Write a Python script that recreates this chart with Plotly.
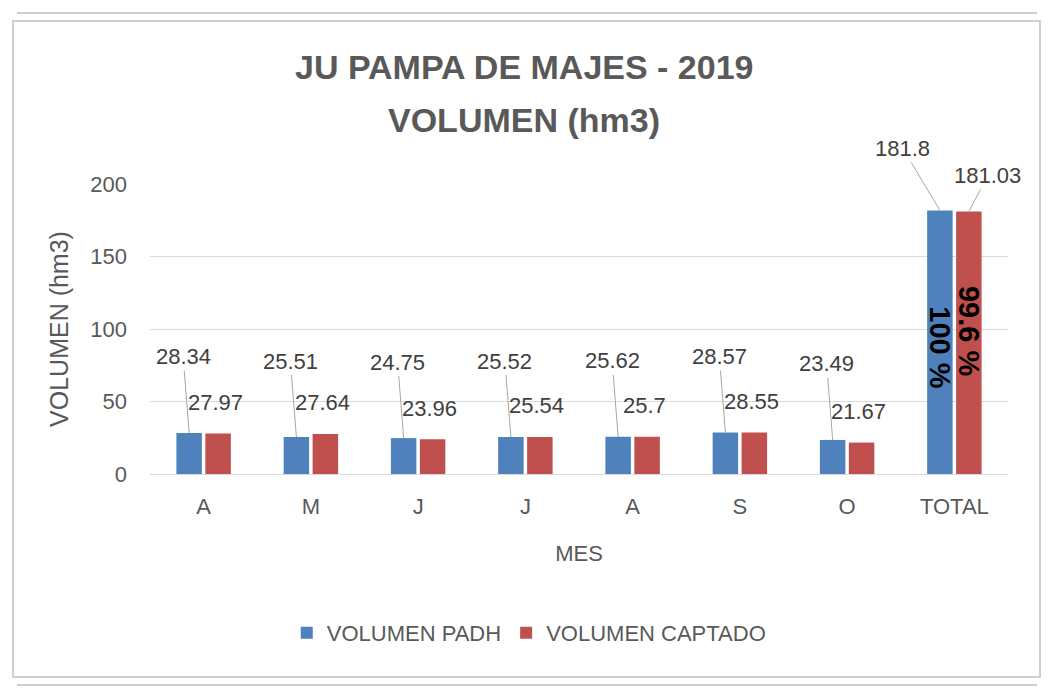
import plotly.graph_objects as go

# ---- data ----
months = ["A", "M", "J", "J", "A", "S", "O", "TOTAL"]
volumen_padh = [28.34, 25.51, 24.75, 25.52, 25.62, 28.57, 23.49, 181.8]
volumen_captado = [27.97, 27.64, 23.96, 25.54, 25.7, 28.55, 21.67, 181.03]
y_ticks = [0, 50, 100, 150, 200]

# ---- layout constants ----
W, H = 1048, 691
L, R, T, B = 150, 1008, 184, 474   # plot area in pixels
BLUE, RED = "#4f81bd", "#c0504d"
GRAY_TXT = "#595959"
GRID = "#d9d9d9"
FONT = "Liberation Sans, Arial, sans-serif"
BARGAP, GROUPGAP = 0.46, 0.12
OFF = (1 - BARGAP) / 4  # centre offset of each bar in a group


def px(x):
    return (x - L) / (R - L)


def py(y):
    return (B - y) / (B - T)


x_idx = list(range(len(months)))

fig = go.Figure()
fig.add_trace(go.Bar(x=x_idx, y=volumen_padh, name="VOLUMEN PADH",
                     marker=dict(color=BLUE, line=dict(width=0))))
fig.add_trace(go.Bar(x=x_idx, y=volumen_captado, name="VOLUMEN CAPTADO",
                     marker=dict(color=RED, line=dict(width=0))))

ann = []
n = len(months)
for i in range(n):
    vb, vr = volumen_padh[i], volumen_captado[i]
    last = i == n - 1
    # blue labels with leader line
    ann.append(dict(x=i - OFF, y=vb, xref="x", yref="y", text=f"{vb:g}",
                    showarrow=True, arrowhead=0, arrowwidth=1, arrowcolor="#a6a6a6",
                    ax=-37 if last else -6, ay=-62 if last else -76,
                    standoff=0, startstandoff=0,
                    font=dict(size=22, color="#404040", family=FONT)))
    # red labels
    if last:
        ann.append(dict(x=i + OFF, y=vr, xref="x", yref="y", text=f"{vr:g}",
                        showarrow=True, arrowhead=0, arrowwidth=1, arrowcolor="#a6a6a6",
                        ax=19, ay=-36, standoff=0, startstandoff=0,
                        font=dict(size=22, color="#404040", family=FONT)))
    else:
        ann.append(dict(x=i + OFF, y=vr, xref="x", yref="y", text=f"{vr:g}",
                        showarrow=False, yanchor="middle", yshift=31, xshift=-3,
                        font=dict(size=22, color="#404040", family=FONT)))

# percentage labels inside TOTAL bars
tb, tr = volumen_padh[-1], volumen_captado[-1]
pct_b = "100 %"
pct_r = f"{tr / tb * 100:.1f} %"
ann.append(dict(x=n - 1 - OFF, y=tb / 2, xref="x", yref="y", text=f"<b>{pct_b}</b>",
                textangle=90, showarrow=False, yshift=-5,
                font=dict(size=29, color="#000000", family=FONT)))
ann.append(dict(x=n - 1 + OFF, y=tr / 2, xref="x", yref="y", text=f"<b>{pct_r}</b>",
                textangle=90, showarrow=False, yshift=11,
                font=dict(size=29, color="#000000", family=FONT)))

# title (two lines)
ann.append(dict(x=px(524), y=py(67), xref="paper", yref="paper",
                text="<b>JU PAMPA DE MAJES - 2019</b>", showarrow=False,
                xanchor="center", yanchor="middle",
                font=dict(size=34, color=GRAY_TXT, family=FONT)))
ann.append(dict(x=px(524), y=py(120), xref="paper", yref="paper",
                text="<b>VOLUMEN (hm3)</b>", showarrow=False,
                xanchor="center", yanchor="middle",
                font=dict(size=34, color=GRAY_TXT, family=FONT)))

# chart frame (as in the source screenshot)
frame = "#d0d0d0"
shapes = [
    dict(type="rect", xref="paper", yref="paper", x0=px(13), x1=px(1040),
         y0=py(677), y1=py(21), line=dict(color=frame, width=2)),
    dict(type="line", xref="paper", yref="paper", x0=px(17), x1=px(1037),
         y0=py(13), y1=py(13), line=dict(color=frame, width=2)),
    dict(type="line", xref="paper", yref="paper", x0=px(17), x1=px(1037),
         y0=py(685), y1=py(685), line=dict(color=frame, width=2)),
]

fig.update_layout(
    width=W, height=H,
    margin=dict(l=L, r=W - R, t=T, b=H - B, autoexpand=False),
    paper_bgcolor="white", plot_bgcolor="white",
    barmode="group", bargap=BARGAP, bargroupgap=GROUPGAP,
    font=dict(family=FONT, color=GRAY_TXT, size=22),
    showlegend=True,
    legend=dict(orientation="h", xref="container", yref="container",
                x=0.505, y=1 - 633 / H, xanchor="center", yanchor="middle",
                font=dict(size=22, color=GRAY_TXT, family=FONT),
                itemsizing="constant", traceorder="normal"),
    annotations=ann,
    shapes=shapes,
    xaxis=dict(tickvals=x_idx, ticktext=months, range=[-0.5, n - 0.5],
               showgrid=False, showline=False, ticks="", zeroline=False,
               ticklabelstandoff=17,
               tickfont=dict(size=22, color=GRAY_TXT),
               title=dict(text="MES", standoff=27,
                          font=dict(size=22, color=GRAY_TXT))),
    yaxis=dict(range=[0, 200], tickvals=y_ticks, showgrid=True, gridcolor=GRID,
               gridwidth=1, zeroline=True, zerolinecolor=GRID, zerolinewidth=1,
               showline=False, ticks="", ticklabelstandoff=22,
               tickfont=dict(size=22, color=GRAY_TXT),
               title=dict(text="VOLUMEN (hm3)", standoff=14,
                          font=dict(size=25, color=GRAY_TXT))),
)

fig.write_html("out.html", config={"displayModeBar": False},
               post_script="document.body.style.margin='0';document.body.style.overflow='hidden';")
